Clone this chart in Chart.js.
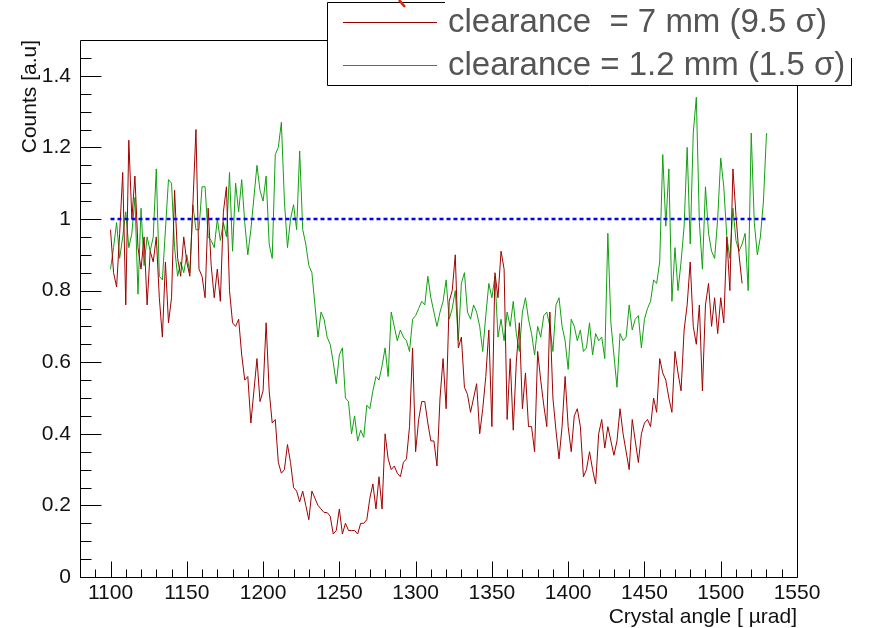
<!DOCTYPE html>
<html><head><meta charset="utf-8">
<script src="https://cdn.jsdelivr.net/npm/chart.js@4/dist/chart.umd.min.js"></script>
<style>html,body{margin:0;padding:0;background:#fff;}canvas{display:block;}</style>
</head><body>
<canvas id="c" width="883" height="628"></canvas>
<script>
// ---- data ----
const angleStart = 1100;   // µrad, first bin
const angleStep = 2;       // µrad between samples

const red7mm = [
0.97,0.85,0.81,0.96,1.13,0.76,1.22,1.00,1.12,0.92,
0.86,0.95,0.76,0.91,0.88,0.95,0.78,0.67,0.88,0.71,
0.78,1.08,0.89,0.84,0.95,0.88,0.84,1.04,1.25,0.86,
0.84,0.78,1.03,0.87,0.78,0.86,0.77,1.02,1.09,0.80,
0.71,0.70,0.72,0.62,0.55,0.56,0.43,0.52,0.61,0.49,
0.52,0.71,0.52,0.43,0.44,0.32,0.29,0.30,0.37,0.32,
0.25,0.24,0.21,0.24,0.20,0.16,0.24,0.22,0.20,0.19,
0.18,0.18,0.17,0.12,0.13,0.19,0.12,0.15,0.13,0.13,
0.13,0.12,0.15,0.15,0.16,0.22,0.26,0.19,0.28,0.19,
0.40,0.33,0.30,0.31,0.29,0.28,0.32,0.33,0.42,0.64,
0.35,0.44,0.49,0.49,0.43,0.38,0.38,0.31,0.50,0.61,
0.47,0.77,0.80,0.90,0.64,0.67,0.53,0.51,0.46,0.50,
0.54,0.40,0.47,0.56,0.69,0.42,0.85,0.78,0.91,0.86,
0.44,0.61,0.41,0.60,0.71,0.47,0.57,0.42,0.42,0.35,
0.63,0.55,0.48,0.42,0.74,0.50,0.41,0.33,0.42,0.56,
0.42,0.35,0.45,0.47,0.42,0.28,0.30,0.35,0.30,0.26,
0.40,0.44,0.36,0.42,0.38,0.34,0.38,0.47,0.40,0.35,
0.30,0.44,0.38,0.32,0.40,0.43,0.44,0.42,0.50,0.46,
0.61,0.57,0.55,0.50,0.46,0.63,0.57,0.52,0.69,0.76,
0.88,0.70,0.65,0.76,0.52,0.76,0.82,0.70,0.78,0.68,
0.78,0.71,0.95,0.80,1.14,1.01,0.90,0.82
];

const green12mm = [
0.86,0.92,0.99,0.89,0.95,1.02,0.92,0.96,1.06,0.79,
1.03,0.87,0.95,0.91,0.95,1.14,0.84,0.83,0.97,1.11,
1.10,0.92,0.84,0.88,0.85,0.90,0.85,1.04,0.97,0.97,
1.09,1.09,0.95,0.94,0.92,1.00,0.94,0.99,0.95,1.13,
0.91,1.10,1.02,1.11,0.99,0.90,0.97,1.06,1.15,1.08,
1.05,1.12,0.93,0.89,1.18,1.20,1.27,1.05,0.92,1.00,
1.04,0.97,1.19,0.97,0.93,0.87,0.85,0.76,0.67,0.74,
0.72,0.67,0.65,0.60,0.54,0.62,0.64,0.50,0.49,0.40,
0.45,0.38,0.41,0.39,0.48,0.47,0.52,0.56,0.55,0.59,
0.64,0.56,0.74,0.70,0.66,0.69,0.67,0.66,0.63,0.72,
0.73,0.75,0.77,0.76,0.84,0.78,0.74,0.70,0.74,0.77,
0.83,0.72,0.75,0.80,0.66,0.82,0.85,0.74,0.72,0.76,
0.74,0.70,0.63,0.73,0.82,0.78,0.84,0.67,0.72,0.66,
0.74,0.70,0.77,0.68,0.63,0.74,0.78,0.72,0.68,0.62,
0.70,0.67,0.73,0.74,0.70,0.63,0.76,0.78,0.70,0.66,
0.58,0.72,0.70,0.66,0.69,0.63,0.64,0.71,0.62,0.68,
0.66,0.67,0.61,0.96,0.71,0.62,0.53,0.68,0.66,0.67,
0.76,0.69,0.72,0.73,0.64,0.72,0.75,0.77,0.83,0.82,
0.88,1.18,0.98,1.14,0.77,0.92,0.80,0.88,0.98,1.20,
0.93,1.24,1.34,0.99,0.86,1.09,0.96,0.91,0.89,1.00,
1.17,1.09,0.95,0.89,1.03,0.94,0.91,0.93,0.96,0.80,
1.24,0.99,0.90,0.95,1.05,1.24
];

const referenceLevel = 1;
const referenceRange = [1100, 1530];

const xTickLabels = [1100,1150,1200,1250,1300,1350,1400,1450,1500,1550];
const yTickLabels = [0,0.2,0.4,0.6,0.8,1,1.2,1.4];
const xRange = [1080, 1550];
const yRange = [0, 1.5];
const xMinorStep = 10;
const yMinorStep = 0.05;

const seriesLabels = ['clearance  = 7 mm (9.5 \u03c3)', 'clearance = 1.2 mm (1.5 \u03c3)'];
const xTitle = 'Crystal angle [ \u00b5rad]';
const yTitle = 'Counts [a.u]';

// ---- styles ----
const RED = '#a00000';
const GREEN = '#10a010';
const FONT = "'Liberation Sans', Arial, sans-serif";

const toPoints = arr => arr.map((v, i) => ({x: angleStart + i * angleStep, y: v}));

const rootFrame = {
  id: 'rootFrame',
  afterDatasetsDraw(chart) {
    const {ctx, chartArea: a, scales: {x, y}} = chart;
    ctx.save();
    ctx.strokeStyle = '#000';
    ctx.lineWidth = 1;
    ctx.beginPath();
    const L = Math.round(a.left) + 0.5, R = Math.round(a.right) + 0.5;
    const T = Math.round(a.top) + 0.5, B = Math.round(a.bottom) + 0.5;
    ctx.rect(L, T, R - L, B - T);
    for (let v = xRange[0]; v <= xRange[1] + 1e-9; v += xMinorStep) {
      const px = Math.round(x.getPixelForValue(v)) + 0.5;
      const major = xTickLabels.includes(Math.round(v));
      ctx.moveTo(px, B); ctx.lineTo(px, B - (major ? 16 : 8));
    }
    for (let k = 0; k * yMinorStep <= yRange[1] - 1e-9; k++) {
      const v = k * yMinorStep;
      const py = Math.round(y.getPixelForValue(v)) + 0.5;
      const major = k % 4 === 0;
      ctx.moveTo(L, py); ctx.lineTo(L + (major ? 21 : 11), py);
    }
    ctx.stroke();
    ctx.restore();
  },
  afterDraw(chart) {
    const ctx = chart.ctx;
    ctx.save();
    ctx.fillStyle = '#fff';
    ctx.fillRect(327, 2, 524, 83);
    ctx.strokeStyle = '#000';
    ctx.lineWidth = 1;
    ctx.beginPath();
    ctx.moveTo(327.5, 2.5); ctx.lineTo(327.5, 85.5); ctx.lineTo(851.5, 85.5); ctx.lineTo(851.5, 58);
    ctx.moveTo(327.5, 2.5); ctx.lineTo(445, 2.5);
    ctx.stroke();
    const ds = chart.data.datasets;
    const rows = [22, 65];
    [0, 1].forEach((i, r) => {
      ctx.strokeStyle = ds[i].borderColor;
      ctx.lineWidth = 1;
      ctx.beginPath();
      ctx.moveTo(343, rows[r] + 0.5); ctx.lineTo(437, rows[r] + 0.5);
      ctx.stroke();
      ctx.fillStyle = '#555';
      ctx.font = "33px " + FONT;
      ctx.textBaseline = 'middle';
      ctx.textAlign = 'left';
      ctx.fillText(ds[i].label, 448, rows[r] + 1);
    });
    ctx.strokeStyle = '#e0200a';
    ctx.lineWidth = 2.5;
    ctx.beginPath();
    ctx.moveTo(399, 0); ctx.lineTo(405, 7);
    ctx.stroke();
    ctx.restore();
  }
};

new Chart(document.getElementById('c'), {
  type: 'line',
  data: {
    datasets: [
      {
        label: seriesLabels[0], data: toPoints(red7mm),
        borderColor: RED, borderWidth: 1, pointRadius: 0, tension: 0, order: 1
      },
      {
        label: seriesLabels[1], data: toPoints(green12mm),
        borderColor: GREEN, borderWidth: 1, pointRadius: 0, tension: 0, order: 2
      },
      {
        label: 'reference', data: referenceRange.map(v => ({x: v, y: referenceLevel})),
        borderColor: '#0000ff', borderWidth: 2.5, borderDash: [4, 3], pointRadius: 0, order: 0
      }
    ]
  },
  options: {
    responsive: false,
    animation: false,
    devicePixelRatio: 1,
    layout: {padding: {left: 0, right: 86, top: 40, bottom: 0}},
    plugins: {legend: {display: false}, tooltip: {enabled: false}},
    scales: {
      x: {
        type: 'linear', min: xRange[0], max: xRange[1],
        grid: {display: false, drawTicks: false}, border: {display: false},
        afterBuildTicks: s => { s.ticks = xTickLabels.map(v => ({value: v})); },
        afterFit: s => { s.height = 51; },
        ticks: {color: '#111', font: {family: FONT, size: 21}, padding: 4, maxRotation: 0, autoSkip: false,
                callback: v => String(v)},
        title: {display: true, text: xTitle, align: 'end', color: '#111',
                font: {family: FONT, size: 21, lineHeight: 1.0}, padding: {top: 0, bottom: 0}}
      },
      y: {
        type: 'linear', min: yRange[0], max: yRange[1],
        grid: {display: false, drawTicks: false}, border: {display: false},
        afterBuildTicks: s => { s.ticks = yTickLabels.map(v => ({value: v})); },
        afterFit: s => { s.width = 80; },
        ticks: {color: '#111', font: {family: FONT, size: 21}, padding: 9, autoSkip: false,
                callback: v => String(v)},
        title: {display: true, text: yTitle, align: 'end', color: '#111',
                font: {family: FONT, size: 21, lineHeight: 1.0}, padding: {top: 20, bottom: 0}}
      }
    }
  },
  plugins: [rootFrame]
});
</script>
</body></html>
